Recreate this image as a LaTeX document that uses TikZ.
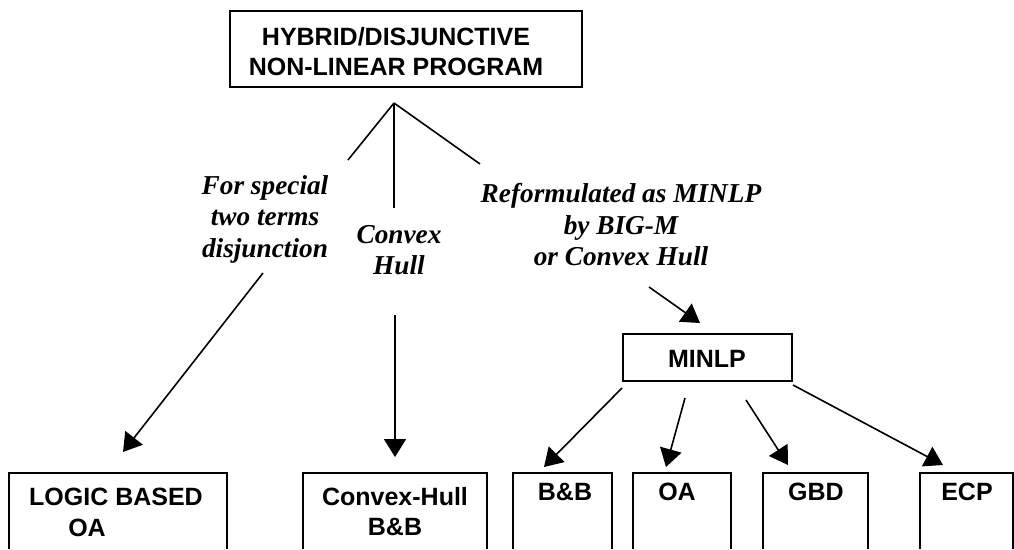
\documentclass[tikz,border=0pt]{standalone}
\usepackage{fontspec}
\setmainfont{Liberation Serif}
\newfontfamily\sansf{Liberation Sans}
\usetikzlibrary{arrows.meta}
\tikzset{
  ln/.style={line width=1.6pt},
  arr/.style={line width=1.6pt,-{Triangle[length=18pt,width=22pt]}},
  boxtxt/.style={inner sep=0pt,align=center,font=\sansf\bfseries\fontsize{25}{30}\selectfont},
  lbl/.style={inner sep=0pt,align=center,font=\bfseries\itshape\fontsize{27.3}{31.5}\selectfont},
  boxline/.style={line width=1.6pt}
}
\begin{document}
\begin{tikzpicture}[x=1pt,y=-1pt]
\useasboundingbox (0,0) rectangle (1014,549);
% top box
\node[draw,boxline,minimum width=352pt,minimum height=76pt,inner sep=0pt] (top) at (406,49) {};
\node[boxtxt] (toptext) at (396,52) {HYBRID/DISJUNCTIVE\\NON-LINEAR PROGRAM};
% branch lines
\coordinate (apex) at (394,103);
\coordinate (lend) at (348,160);
\coordinate (mend) at (394,208);
\coordinate (rend) at (480,164);
\draw[ln] (apex) -- (lend);
\draw[ln] (apex) -- (mend);
\draw[ln] (apex) -- (rend);
% labels
\node[lbl] (l1) at (265,219) {For special\\two terms\\disjunction};
\node[lbl] (l2) at (399,250) {Convex\\Hull};
\node[lbl] (l3) at (621,225) {Reformulated as MINLP\\by BIG-M\\or Convex Hull};
% arrows from labels
\coordinate (a1s) at (263,273);
\coordinate (a1e) at (123,452);
\coordinate (a2s) at (395,315);
\coordinate (a2e) at (395,457);
\coordinate (a3s) at (649,287);
\coordinate (a3e) at (700,323);
\draw[arr] (a1s) -- (a1e);
\draw[arr] (a2s) -- (a2e);
\draw[arr] (a3s) -- (a3e);
% MINLP
\node[draw,boxline,minimum width=169pt,minimum height=47pt,inner sep=0pt] (minlp) at (707.5,357.5) {};
\node[boxtxt] (minlptext) at (707,359) {MINLP};
% arrows from MINLP
\coordinate (b1s) at (622,388);
\coordinate (b1e) at (544,467);
\coordinate (b2s) at (685,398);
\coordinate (b2e) at (666,467);
\coordinate (b3s) at (746,400);
\coordinate (b3e) at (788,465);
\coordinate (b4s) at (793,385);
\coordinate (b4e) at (943,465);
\draw[arr] (b1s) -- (b1e);
\draw[arr] (b2s) -- (b2e);
\draw[arr] (b3s) -- (b3e);
\draw[arr] (b4s) -- (b4e);
% bottom boxes (cut by the picture's lower edge)
\draw[boxline] (9,549) |- (227,473) -- (227,549);
\draw[boxline] (303,549) |- (487,473) -- (487,549);
\draw[boxline] (513,549) |- (612,473) -- (612,549);
\draw[boxline] (633,549) |- (731,473) -- (731,549);
\draw[boxline] (763,549) |- (868,473) -- (868,549);
\draw[boxline] (920,549) |- (1013,473) -- (1013,549);
\node[boxtxt] (logic1) at (116,497) {LOGIC BASED};
\node[boxtxt] (logic2) at (87,528) {OA};
\node[boxtxt] (chbb) at (395,512) {Convex-Hull\\B\&B};
\node[boxtxt] (bb) at (565,492) {B\&B};
\node[boxtxt] (oa) at (677,492) {OA};
\node[boxtxt] (gbd) at (816,492) {GBD};
\node[boxtxt] (ecp) at (967,492) {ECP};
\end{tikzpicture}
\end{document}
